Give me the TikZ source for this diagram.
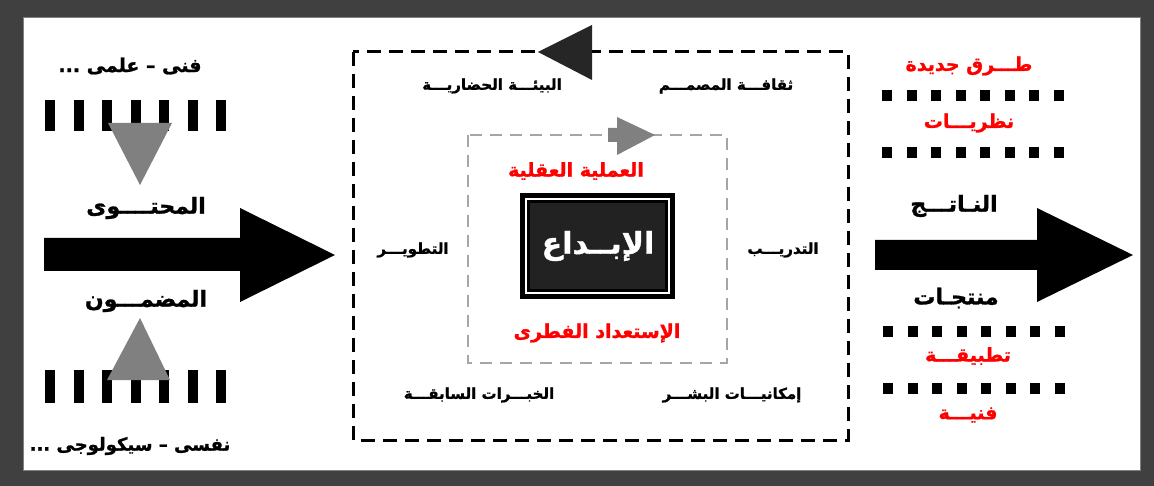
\documentclass[tikz,border=0pt]{standalone}
\usepackage{fontspec}
\newfontfamily\arabicfont[Script=Arabic, BoldFeatures={FakeBold=1.2}]{DejaVu Sans}
\TeXXeTstate=1
\definecolor{framegray}{HTML}{404040}
\definecolor{boxgray}{HTML}{222222}
\definecolor{tri}{HTML}{808080}
\definecolor{dashgray}{HTML}{A6A6A6}
\newcommand{\ar}[1]{\beginR #1\endR}
\begin{document}
\begin{tikzpicture}[x=1pt, y=-1pt,
    lbl/.style={font=\arabicfont\bfseries\fontsize{15}{17}\selectfont, inner sep=0pt},
    big/.style={font=\arabicfont\bfseries\fontsize{19}{21}\selectfont, inner sep=0pt},
    huge/.style={font=\arabicfont\bfseries\fontsize{22}{24}\selectfont, inner sep=0pt},
    redlbl/.style={big, text=red}]
  \useasboundingbox (0,0) rectangle (1154,486);
  \fill[framegray] (0,0) rectangle (1154,486);
  \fill[white, draw=gray] (23,17) rectangle (1140,470);

  % left side
  \foreach \i in {0,...,6} {
    \fill (45+28.5*\i,100) rectangle ++(10,31);
    \fill (45+28.5*\i,370) rectangle ++(10,33);
  }
  \fill[tri] (108,123) -- (172,123) -- (140,185) -- cycle;
  \fill[tri] (107,380) -- (170,380) -- (140,318) -- cycle;
  \node[big] (tech) at (130,66) {\ar{فنى – علمى ...}};
  \node[huge] (content) at (146,208) {\ar{المحتــــوى}};
  \node[huge] (meaning) at (146,301) {\ar{المضمـــون}};
  \node[big, font=\arabicfont\bfseries\fontsize{18}{20}\selectfont] (psych) at (130,446) {\ar{نفسى – سيكولوجى ...}};
  \fill (44,238) -- (240,238) -- (240,208) -- (335,255) -- (240,302) -- (240,271) -- (44,271) -- cycle;

  % middle
  \draw[line width=3pt, dash pattern=on 14pt off 8pt] (353,52) rectangle (848,440);
  \fill[black!85] (538,52) -- (592,25) -- (592,80) -- cycle;
  \draw[dashgray, line width=2.5pt, dash pattern=on 12pt off 8pt] (468,135) rectangle (727,363);
  \fill[tri] (608,128) -- (617,128) -- (617,117) -- (655,135) -- (617,155) -- (617,142) -- (608,142) -- cycle;
  \node[lbl] (env) at (492,86) {\ar{البيئـــة الحضاريـــة}};
  \node[lbl] (culture) at (726,86) {\ar{ثقافـــة المصمـــم}};
  \node[lbl] (develop) at (413,250) {\ar{التطويـــر}};
  \node[lbl] (train) at (783,250) {\ar{التدريـــب}};
  \node[lbl] (exper) at (479,395) {\ar{الخبـــرات السابقـــة}};
  \node[lbl] (human) at (732,395) {\ar{إمكانيـــات البشـــر}};
  \node[redlbl] (mind) at (576,171) {\ar{العملية العقلية}};
  \node[redlbl] (innate) at (597,333) {\ar{الإستعداد الفطرى}};
  \fill (520,193) rectangle (675,299);
  \draw[white, line width=2pt] (526,199) rectangle (669,293);
  \fill[boxgray] (530,203) rectangle (665,289);
  \node[font=\arabicfont\bfseries\fontsize{30}{34}\selectfont, text=white, inner sep=0pt] (create) at (598,246) {\ar{الإبــداع}};

  % right side
  \foreach \i in {0,...,7} {
    \fill (882+24.5*\i,90) rectangle ++(10,11);
    \fill (882+24.5*\i,147) rectangle ++(10,11);
    \fill (883+24.5*\i,326) rectangle ++(10,11);
    \fill (883+24.5*\i,383) rectangle ++(10,11);
  }
  \node[redlbl] (ways) at (969,66) {\ar{طـــرق جديدة}};
  \node[redlbl] (theory) at (969,123) {\ar{نظريـــات}};
  \node[huge] (result) at (954,206) {\ar{النـاتـــج}};
  \node[huge] (product) at (956,298) {\ar{منتجـات}};
  \node[redlbl] (applied) at (968,356) {\ar{تطبيقـــة}};
  \node[redlbl] (art) at (968,415) {\ar{فنيـــة}};
  \fill (875,240) -- (1037,240) -- (1037,208) -- (1133,255) -- (1037,302) -- (1037,270) -- (875,270) -- cycle;
\end{tikzpicture}
\end{document}
